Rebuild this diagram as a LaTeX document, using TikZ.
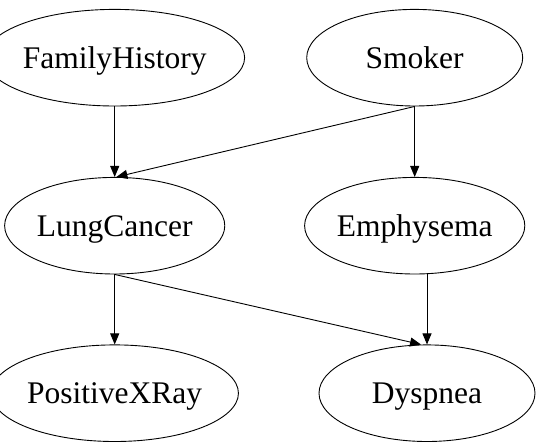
\documentclass[tikz,border=0pt]{standalone}
\usepackage{fontspec}
\setmainfont{Liberation Serif}
\usetikzlibrary{arrows.meta,shapes.geometric}
\begin{document}
\begin{tikzpicture}[x=1pt,y=1pt,
  var/.style={ellipse, draw, line width=0.9pt, minimum width=216pt, minimum height=96.6pt,
    inner sep=0pt, font=\fontsize{31.5}{38}\selectfont, text height=21.4pt, text depth=0pt},
  edge/.style={line width=0.9pt, -{Triangle[length=11pt,width=9pt]}}]
\useasboundingbox (0,0) rectangle (537,-444);
\fill[white] (0,0) rectangle (537,-444);
\node[var] (FH) at (114.7,-57.7) {FamilyHistory};
\node[var] (S)  at (414.7,-57.7) {Smoker};
\node[var] (LC) at (114.7,-225.7) {LungCancer};
\node[var] (E)  at (414.7,-225.7) {Emphysema};
\node[var] (PX) at (114.7,-393.2) {PositiveXRay};
\node[var] (D)  at (427,-393.2) {Dyspnea};
\draw[edge] (FH.south) -- (LC.north);
\draw[edge] (S.south) -- (LC.88);
\draw[edge] (S.south) -- (E.north);
\draw[edge] (LC.south) -- (PX.north);
\draw[edge] (LC.south) -- (D.97);
\draw[edge] (E.south -| D.north) -- (D.north);
\end{tikzpicture}
\end{document}
